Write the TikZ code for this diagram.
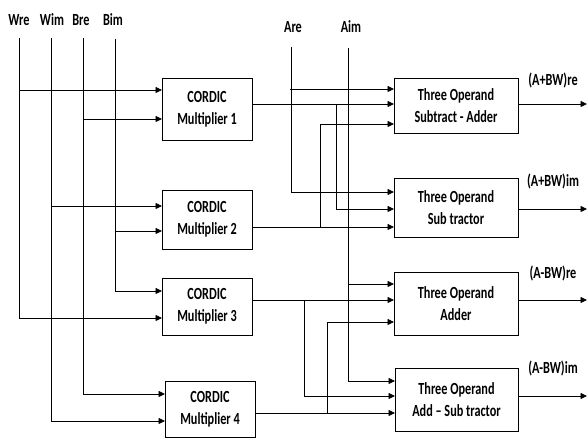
\documentclass[tikz,border=0pt]{standalone}
\usepackage{fontspec}
\newfontfamily\lblfont{Carlito Bold}[FakeStretch=0.72]
\usetikzlibrary{arrows.meta}
\begin{document}
\begin{tikzpicture}[x=1pt,y=-1pt,
  txt/.style={font=\lblfont\fontsize{17}{22}\selectfont, inner sep=0pt},
  box/.style={draw, line width=0.9pt, align=center, txt},
  wire/.style={line width=0.8pt},
  arr/.style={wire, -{Triangle[length=6.5pt,width=6pt]}}]
\useasboundingbox (0,0) rectangle (587,438);
% labels
\node[txt] (lwre) at (19,20) {Wre};
\node[txt] (lwim) at (52,20) {Wim};
\node[txt] (lbre) at (81,20) {Bre};
\node[txt] (lbim) at (113,20) {Bim};
\node[txt] (lare) at (293,27) {Are};
\node[txt] (laim) at (351,27) {Aim};
% multipliers
\node[box, minimum width=90pt, minimum height=62pt] (m1) at (207,109) {CORDIC\\Multiplier 1};
\node[box, minimum width=90pt, minimum height=59pt] (m2) at (207,219.5) {CORDIC\\Multiplier 2};
\node[box, minimum width=90pt, minimum height=57pt] (m3) at (207,306.5) {CORDIC\\Multiplier 3};
\node[box, minimum width=90pt, minimum height=56pt] (m4) at (210,409) {CORDIC\\Multiplier 4};
% adders
\node[box, minimum width=124pt, minimum height=55pt] (a1) at (456,105.5) {Three Operand\\Subtract - Adder};
\node[box, minimum width=124pt, minimum height=59pt] (a2) at (456,207.5) {Three Operand\\Sub tractor};
\node[box, minimum width=124pt, minimum height=63pt] (a3) at (456,303.5) {Three Operand\\Adder};
\node[box, minimum width=123pt, minimum height=63pt] (a4) at (456.5,399.5) {Three Operand\\Add – Sub tractor};
% output labels
\node[txt] (o1l) at (553,80) {(A+BW)re};
\node[txt] (o2l) at (553,181) {(A+BW)im};
\node[txt] (o3l) at (553,273) {(A-BW)re};
\node[txt] (o4l) at (553,368) {(A-BW)im};
% coordinates
\coordinate (wreT) at (19,38);
\coordinate (wimT) at (51,38);
\coordinate (breT) at (83,38);
\coordinate (bimT) at (115,39);
\coordinate (areT) at (291,47);
\coordinate (aimT) at (348,48);
\coordinate (m1a) at (162,90);  \coordinate (m1b) at (162,119);
\coordinate (m2a) at (162,206); \coordinate (m2b) at (162,231);
\coordinate (m3a) at (162,291); \coordinate (m3b) at (162,318);
\coordinate (m4a) at (165,394); \coordinate (m4b) at (165,421);
\coordinate (m1o) at (252,104); \coordinate (m2o) at (252,227);
\coordinate (m3o) at (252,300); \coordinate (m4o) at (255,413);
\coordinate (a1a) at (394,89);  \coordinate (a1b) at (394,104); \coordinate (a1c) at (394,124);
\coordinate (a2a) at (394,192); \coordinate (a2b) at (394,209); \coordinate (a2c) at (394,227);
\coordinate (a3a) at (394,284); \coordinate (a3b) at (394,300); \coordinate (a3c) at (394,322);
\coordinate (a4a) at (395,381); \coordinate (a4b) at (395,396); \coordinate (a4c) at (395,413);
\coordinate (t1) at (336,104); \coordinate (t2) at (320,227);
\coordinate (t3) at (304,300); \coordinate (t4) at (327,413);
\coordinate (o1) at (587,104); \coordinate (o2) at (587,209);
\coordinate (o3) at (587,300); \coordinate (o4) at (587,396);
% left wiring
\draw[arr] (wreT) |- (m3b);
\draw[arr] (wreT|-m1a) -- (m1a);
\draw[arr] (wimT) |- (m4b);
\draw[arr] (wimT|-m2a) -- (m2a);
\draw[arr] (breT) |- (m4a);
\draw[arr] (breT|-m1b) -- (m1b);
\draw[arr] (bimT) |- (m3a);
\draw[arr] (bimT|-m2b) -- (m2b);
% right wiring
\draw[arr] (areT) |- (a2a);
\draw[arr] ([xshift=-1pt]areT|-a1a) -- (a1a);
\draw[arr] (aimT) |- (a4a);
\draw[arr] (aimT|-a3a) -- (a3a);
\draw[arr] (m1o) -- (a1b);
\draw[arr] (t1) |- (a2b);
\draw[arr] (m2o) -- (a2c);
\draw[arr] (t2) |- (a1c);
\draw[arr] (m3o) -- (a3b);
\draw[arr] (t3) |- (a4b);
\draw[arr] (m4o) -- (a4c);
\draw[arr] (t4) |- (a3c);
% outputs
\draw[arr] (a1.east|-o1) -- (o1);
\draw[arr] (a2.east|-o2) -- (o2);
\draw[arr] (a3.east|-o3) -- (o3);
\draw[arr] (a4.east|-o4) -- (o4);
\end{tikzpicture}
\end{document}
